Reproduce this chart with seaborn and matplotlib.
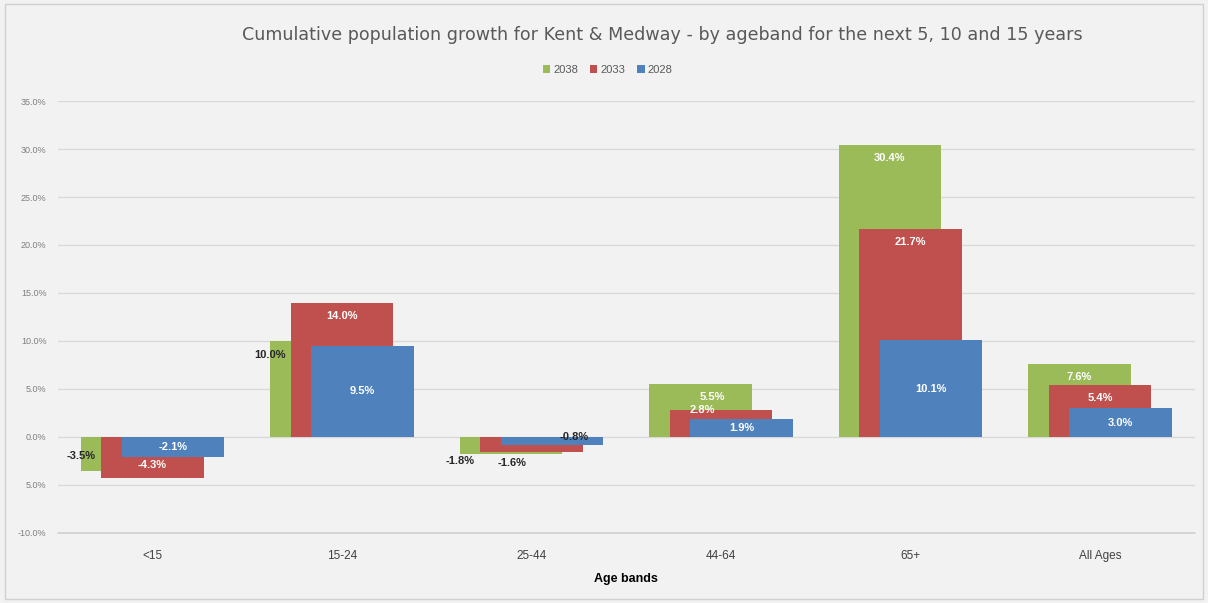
import numpy as np
import matplotlib
matplotlib.use("Agg")
import matplotlib.pyplot as plt
import seaborn as sns
from matplotlib.patches import Rectangle, Patch

# ---- data ---------------------------------------------------------------
age_bands = ["<15", "15-24", "25-44", "44-64", "65+", "All Ages"]
years = ["2038", "2033", "2028"]
growth_2038 = [-3.5, 10.0, -1.8, 5.5, 30.4, 7.6]
growth_2033 = [-4.3, 14.0, -1.6, 2.8, 21.7, 5.4]
growth_2028 = [-2.1, 9.5, -0.8, 1.9, 10.1, 3.0]
y_ticks = [-10, -5, 0, 5, 10, 15, 20, 25, 30, 35]
y_tick_labels = ["-10.0%", "5.0%", "0.0%", "5.0%", "10.0%", "15.0%",
                 "20.0%", "25.0%", "30.0%", "35.0%"]

series = [growth_2038, growth_2033, growth_2028]
colors = ["#9BBB59", "#C0504D", "#4F81BD"]
bg = "#F2F2F2"

sns.set_theme(style="white")
narrow = ["Liberation Sans Narrow", "Liberation Sans", "DejaVu Sans"]
plt.rcParams["font.family"] = ["DejaVu Sans"]

fig = plt.figure(figsize=(12.08, 6.03), dpi=100, facecolor=bg)
ax = fig.add_axes([0.0478, 0.1161, 0.9412, 0.7164])
ax.set_facecolor(bg)

# overlapping bars: each series shifted a little to the right of the previous
bar_w = 0.54
step = 0.108
offsets = [-step, 0.0, step]
for vals, col, off in zip(series, colors, offsets):
    sns.barplot(x=age_bands, y=vals, color=col, width=bar_w, ax=ax,
                saturation=1, errorbar=None, zorder=3)
    for p in ax.containers[-1]:
        p.set_x(p.get_x() + off)
        p.set_edgecolor("none")

ax.set_xlim(-0.5, len(age_bands) - 0.5)
ax.set_ylim(-10, 35)
ax.set_yticks(y_ticks)
ax.set_yticklabels(y_tick_labels, fontsize=6.5, color="#7f7f7f",
                   family=narrow)
ax.yaxis.grid(True, color="#D9D9D9", linewidth=1.0, zorder=0)
ax.axhline(-10, color="#D0D0D0", linewidth=1.2, clip_on=False, zorder=1)
ax.set_axisbelow(True)
for s in ax.spines.values():
    s.set_visible(False)
ax.tick_params(axis="y", length=0, pad=8)
ax.tick_params(axis="x", length=0, pad=12)
for lbl in ax.get_xticklabels():
    lbl.set_fontsize(8.5)
    lbl.set_color("#404040")
    lbl.set_family(narrow)
ax.set_xlabel("Age bands", fontsize=9, fontweight="bold", color="#000000",
              family=narrow, labelpad=8)
ax.set_ylabel("")

# ---- data labels -----------------------------------------------------------
dark_labels = {(0, 0), (0, 1), (0, 2), (1, 2), (2, 2)}
nudge_x = {(1, 2): -0.10, (2, 2): 0.12, (1, 3): -0.10, (0, 3): 0.06}
for si, (vals, off) in enumerate(zip(series, offsets)):
    for ci, v in enumerate(vals):
        sign = 1 if v >= 0 else -1
        x = ci + off + nudge_x.get((si, ci), 0.0)
        ha = "center"
        if si == 2:
            y = v / 2
        else:
            y = v - sign * 1.35
        if si == 0 and ci in (0, 1, 2):
            # narrow visible strip: put the label just left of the red bar
            x = ci + off - bar_w / 2 + 0.08
            ha = "right"
            y = v - sign * 1.5 if ci != 2 else v - 0.75
        if (si, ci) == (1, 2):
            y = v - 1.1
        if (si, ci) == (1, 3):
            y = v
        if (si, ci) == (2, 2):
            y = v + 0.8
        col = "#262626" if (si, ci) in dark_labels else "white"
        ax.text(x, y, f"{v:.1f}%", ha=ha, va="center", fontsize=8,
                fontweight="bold", color=col, family=narrow, zorder=5)

# ---- title and legend ---------------------------------------------------
fig.text(0.5485, 0.942,
         "Cumulative population growth for Kent & Medway - by ageband for the next 5, 10 and 15 years",
         ha="center", va="center", fontsize=12.6, color="#595959")
handles = [Patch(facecolor=c, edgecolor="none") for c in colors]
fig.legend(handles, years, loc="center", bbox_to_anchor=(0.503, 0.884),
           ncol=3, frameon=False, handlelength=0.7,
           handleheight=0.7, handletextpad=0.3, columnspacing=1.0,
           labelcolor="#595959", prop={"family": narrow, "size": 8})

# thin chart-area border
fig.patches.append(Rectangle((0.004, 0.006), 0.992, 0.988,
                             transform=fig.transFigure, fill=False,
                             edgecolor="#D0D0D0", linewidth=1.0))

fig.savefig("out.png", dpi=100, facecolor=bg)
